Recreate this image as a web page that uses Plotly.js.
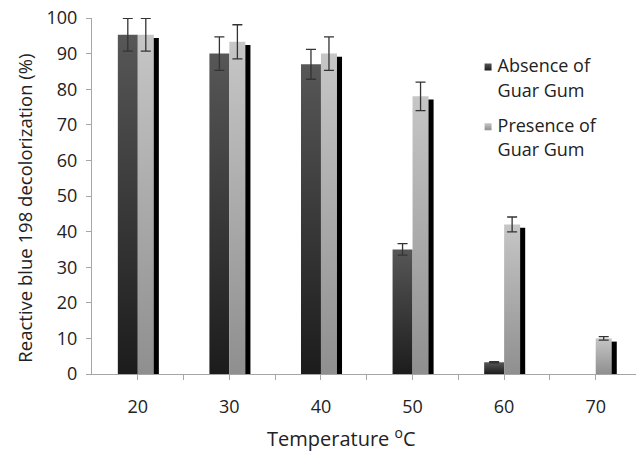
<!DOCTYPE html>
<html>
<head>
<meta charset="utf-8">
<script src="https://cdn.plot.ly/plotly-3.0.1.min.js"></script>
<style>
  html, body { margin: 0; padding: 0; background: #fff; }
  #chart { width: 636px; height: 451px; }
</style>
</head>
<body>
<div id="chart"></div>
<script>
// ---- data ----
var categories = ['20', '30', '40', '50', '60', '70'];
var absenceValues = [95.3, 90, 87, 35, 3.3, 0];
var absenceErrors = [4.6, 4.7, 4.2, 1.6, 0.2, NaN];
var presenceValues = [95.3, 93.3, 90, 78, 42, 10];
var presenceErrors = [4.6, 4.8, 4.7, 4, 2.1, 0.5];
var seriesNames = ['Absence of<br>Guar Gum', 'Presence of<br>Guar Gum'];
var yTitle = 'Reactive blue 198 decolorization (%)';
var xTitle = 'Temperature <sup>o</sup>C';

// ---- styling ----
var FONT = 'Open Sans, Liberation Sans, sans-serif';
var AXIS_GREY = '#a6a6a6';
var SHADOW_DROP = 0.9; // visual drop of the 3-D shadow behind the light bars

var xIdx = categories.map(function (c, i) { return i; });
var tickVals = [], tickText = [];
categories.forEach(function (c, i) {
  tickVals.push(i); tickText.push(c);
  if (i < categories.length - 1) { tickVals.push(i + 0.5); tickText.push(''); }
});

var shadow = {
  type: 'bar', x: xIdx,
  y: presenceValues.map(function (v) { return v - SHADOW_DROP; }),
  width: 0.175, offset: 0.055,
  marker: { color: '#000000', line: { width: 0 } },
  showlegend: false, hoverinfo: 'skip', name: 'shadow'
};
var absence = {
  type: 'bar', x: xIdx, y: absenceValues, name: seriesNames[0],
  width: 0.218, offset: -0.218,
  marker: { color: '#3a3a3a', line: { width: 0 } },
  error_y: { type: 'data', array: absenceErrors, visible: true, color: '#333333', thickness: 1.3, width: 5 },
  legendgroup: 'a'
};
var presence = {
  type: 'bar', x: xIdx, y: presenceValues, name: seriesNames[1],
  width: 0.175, offset: 0,
  marker: { color: '#ababab', line: { width: 0 } },
  error_y: { type: 'data', array: presenceErrors, visible: true, color: '#333333', thickness: 1.3, width: 5 },
  legendgroup: 'b'
};

var layout = {
  width: 636, height: 451,
  margin: { l: 92, r: 0, t: 18, b: 77 },
  paper_bgcolor: '#ffffff', plot_bgcolor: '#ffffff',
  barmode: 'overlay',
  font: { family: FONT, size: 18, color: '#222222' },
  showlegend: true,
  legend: {
    x: 0.672, y: 0.92, xanchor: 'left', yanchor: 'top',
    font: { family: FONT, size: 18, color: '#222222' },
    bgcolor: 'rgba(0,0,0,0)', traceorder: 'grouped', tracegroupgap: 10
  },
  xaxis: {
    range: [-0.5, 5.44],
    tickmode: 'array', tickvals: tickVals, ticktext: tickText,
    ticks: 'outside', ticklen: 5, tickcolor: AXIS_GREY, tickwidth: 1,
    showline: true, linecolor: AXIS_GREY, linewidth: 1,
    showgrid: false, zeroline: false,
    ticklabelstandoff: 11,
    tickfont: { family: FONT, size: 18, color: '#222222' }
  },
  yaxis: {
    range: [0, 100], dtick: 10, tick0: 0,
    ticks: 'outside', ticklen: 5, tickcolor: AXIS_GREY, tickwidth: 1,
    showline: true, linecolor: AXIS_GREY, linewidth: 1,
    showgrid: false, zeroline: false,
    ticklabelstandoff: 5,
    tickfont: { family: FONT, size: 18, color: '#222222' }
  },
  annotations: [
    { text: xTitle, xref: 'paper', yref: 'paper', x: 0.458, y: -0.178,
      xanchor: 'center', yanchor: 'middle', showarrow: false,
      font: { family: FONT, size: 20, color: '#222222' } },
    { text: yTitle, xref: 'paper', yref: 'paper', x: -0.124, y: 0.466,
      xanchor: 'center', yanchor: 'middle', showarrow: false, textangle: -90,
      font: { family: FONT, size: 18.5, color: '#222222' } }
  ]
};

Plotly.newPlot('chart', [shadow, absence, presence], layout, { staticPlot: true }).then(function (gd) {
  var NS = 'http://www.w3.org/2000/svg';
  var svg = gd.querySelector('svg.main-svg');
  var defs = svg.querySelector('defs') || svg.insertBefore(document.createElementNS(NS, 'defs'), svg.firstChild);
  function grad(id, top, bottom) {
    var g = document.createElementNS(NS, 'linearGradient');
    g.setAttribute('id', id);
    g.setAttribute('x1', '0'); g.setAttribute('y1', '0');
    g.setAttribute('x2', '0'); g.setAttribute('y2', '1');
    [[0, top], [1, bottom]].forEach(function (s) {
      var st = document.createElementNS(NS, 'stop');
      st.setAttribute('offset', s[0]);
      st.setAttribute('stop-color', s[1]);
      g.appendChild(st);
    });
    defs.appendChild(g);
  }
  grad('gDark', '#575757', '#1c1c1c');
  grad('gLight', '#c6c6c6', '#8f8f8f');

  var traces = gd.querySelectorAll('.barlayer .trace');
  if (traces[1]) traces[1].querySelectorAll('.points path').forEach(function (p) { p.style.fill = 'url(#gDark)'; });
  if (traces[2]) traces[2].querySelectorAll('.points path').forEach(function (p) { p.style.fill = 'url(#gLight)'; });

  var items = gd.querySelectorAll('.legend .traces');
  items.forEach(function (it, i) {
    var p = it.querySelector('.legendpoints path');
    if (p) {
      p.setAttribute('d', 'M14,-6H7V-13H14Z');
      p.style.fill = i === 0 ? 'url(#gDark)' : 'url(#gLight)';
      p.style.stroke = 'none';
    }
    var lines = it.querySelectorAll('text.legendtext tspan.line');
    lines.forEach(function (t, j) { if (j > 0) t.setAttribute('dy', '25px'); });
  });
});
</script>
</body>
</html>
